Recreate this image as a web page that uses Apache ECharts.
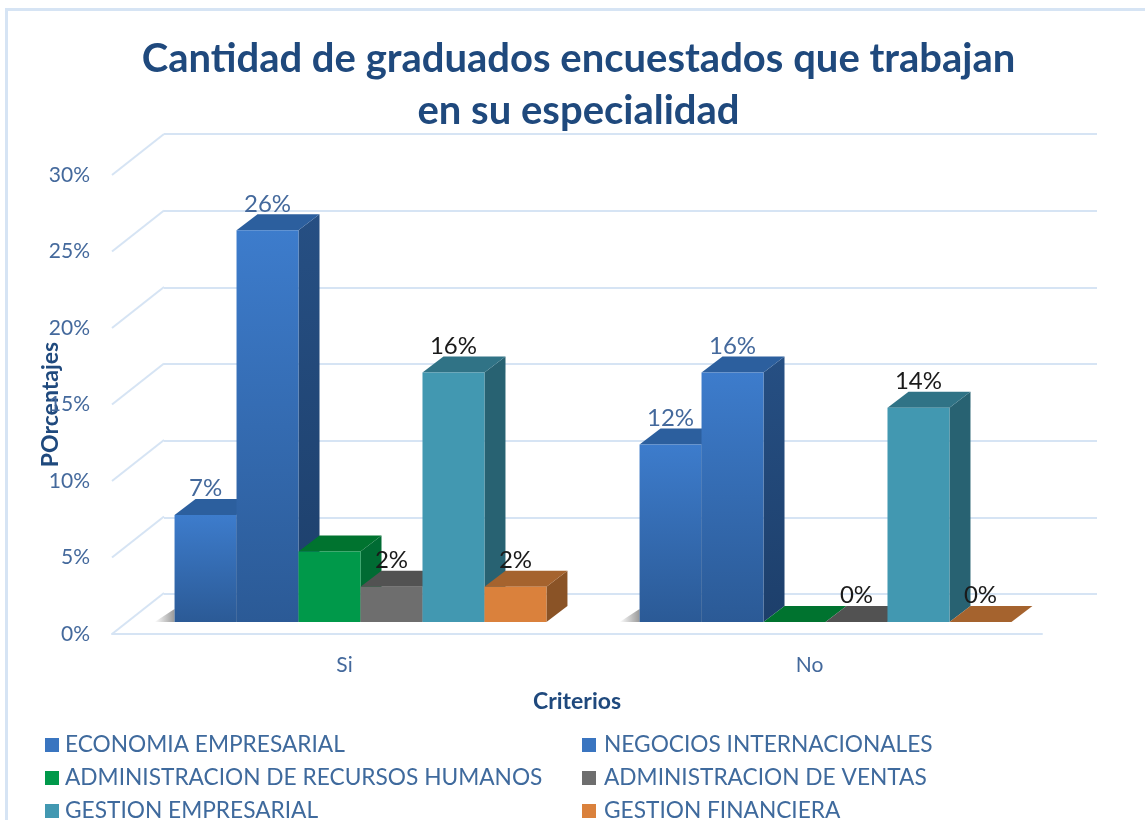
<!DOCTYPE html>
<html><head><meta charset="utf-8">
<style>html,body{margin:0;padding:0;background:#fff}#c{width:1145px;height:820px}</style>
<script src="https://cdn.jsdelivr.net/npm/echarts@6/dist/echarts.min.js"></script>
</head><body><div id="c"></div>
<script>
const titleText = 'Cantidad de graduados encuestados que trabajan\nen su especialidad';
const categories = ['Si', 'No'];
const valueTicks = [0, 5, 10, 15, 20, 25, 30];
const economia = [7.0, 11.6];
const negocios = [25.6, 16.3];
const recursos = [4.6, 0];
const ventas = [2.3, 0];
const gestionEmp = [16.3, 14.0];
const gestionFin = [2.3, 0];
const seriesNames = ['ECONOMIA EMPRESARIAL','NEGOCIOS INTERNACIONALES','ADMINISTRACION DE RECURSOS HUMANOS','ADMINISTRACION DE VENTAS','GESTION EMPRESARIAL','GESTION FINANCIERA'];
const seriesValues = [economia, negocios, recursos, ventas, gestionEmp, gestionFin];

const FONT = 'Lato';
const BLUE = '#44699c', NAVY = '#1f497d', LINE = '#d6e4f4';
const grad = (a, b) => ({type:'linear',x:0,y:0,x2:0,y2:1,colorStops:[{offset:0,color:a},{offset:1,color:b}]});
const looks = [
  {front:grad('#3d7ccc','#2b5a96'),top:'#2c5f9e',side:grad('#264f83','#1d3f6b'),key:'#3a75c0',label:BLUE,shadow:true},
  {front:grad('#3d7ccc','#2b5a96'),top:'#2c5f9e',side:grad('#264f83','#1d3f6b'),key:'#3a75c0',label:BLUE},
  {front:'#00994a',top:'#00732f',side:'#006b33',key:'#00994a',label:null},
  {front:'#6e6e6e',top:'#525252',side:'#4a4a4a',key:'#6e6e6e',label:'#1a1a1a'},
  {front:'#4298b1',top:'#307386',side:'#286272',key:'#4298b1',label:'#1a1a1a'},
  {front:'#da813c',top:'#a5632e',side:'#8a5326',key:'#da813c',label:'#1a1a1a'}
];

function barSeries(idx){
  const look = looks[idx];
  return {
    name: seriesNames[idx], type:'custom', xAxisIndex:0, yAxisIndex:0, clip:false,
    itemStyle:{color:look.key}, encode:{x:0,y:1},
    data: categories.map((c,i)=>[i, seriesValues[idx][i]]),
    renderItem(params, api){
      const top = api.coord([api.value(0), api.value(1)]);
      const base = api.coord([api.value(0), 0]);
      const band = api.size([1,0])[0];
      const w = band*0.1333, dx=21, dy=-16;
      const x0 = top[0] + 16 + (idx-3)*w, x1 = x0+w;
      const yb = base[1]-12, yt = top[1]-12;
      const children = [];
      if(look.shadow){
        children.push({type:'polygon',shape:{points:[[x0-20,yb],[x0,yb],[x0,yb-13]]},
          style:{fill:{type:'linear',x:0,y:0,x2:1,y2:0,colorStops:[{offset:0,color:'rgba(70,70,70,0)'},{offset:1,color:'rgba(70,70,70,0.55)'}]}}});
      }
      children.push({type:'polygon',shape:{points:[[x1,yb],[x1+dx,yb+dy],[x1+dx,yt+dy],[x1,yt]]},style:{fill:look.side}});
      children.push({type:'polygon',shape:{points:[[x0,yt],[x0+dx,yt+dy],[x1+dx,yt+dy],[x1,yt]]},style:{fill:look.top}});
      children.push({type:'rect',shape:{x:x0,y:yt,width:w,height:yb-yt},style:{fill:look.front}});
      if(look.label){
        children.push({type:'text',z2:20,style:{text:Math.round(api.value(1))+'%',x:(x0+x1)/2,y:yt-26.5,
          align:'center',verticalAlign:'middle',fill:look.label,font:'24px '+FONT}});
      }
      return {type:'group',children};
    }
  };
}

const wallSeries = {
  type:'custom', xAxisIndex:0, yAxisIndex:0, clip:false, silent:true, z:0,
  data: valueTicks.map(v=>[0,v]), encode:{x:0,y:1},
  renderItem(params, api){
    const y = api.coord([0, api.value(1)])[1];
    const x = params.coordSys.x;
    return {type:'line',shape:{x1:x,y1:y,x2:x+52,y2:y-41},style:{stroke:LINE,lineWidth:2,fill:null}};
  }
};

function legendRow(name, left, rowTop, pad){
  return {orient:'horizontal',left,top:rowTop,padding:0,itemWidth:14,itemHeight:14,icon:'rect',selectedMode:false,
    data:[name],textStyle:{color:'#3f6a9d',fontFamily:FONT,fontSize:22.7,lineHeight:26,padding:[0,0,0,pad]}};
}

const chart = echarts.init(document.getElementById('c'),null,{renderer:'canvas'});
chart.setOption({
  animation:false, backgroundColor:'#fff',
  title:{text:titleText,left:573.5,textAlign:'center',top:28,itemGap:0,
    textStyle:{color:NAVY,fontFamily:FONT,fontSize:40,fontWeight:'bold',lineHeight:52}},
  graphic:[{type:'rect',shape:{x:6.5,y:9.5,width:1170,height:900},style:{fill:null,stroke:LINE,lineWidth:3},silent:true,z:-1}],
  grid:[{left:112,width:930,top:175,height:459},{left:164,width:933,top:134,height:460}],
  xAxis:[
    {type:'category',gridIndex:0,data:categories,
      axisLine:{show:true,lineStyle:{color:LINE,width:2}},axisTick:{show:false},
      axisLabel:{color:BLUE,fontFamily:FONT,fontSize:21,margin:21},
      name:'Criterios',nameLocation:'middle',nameGap:56,nameMoveOverlap:false,
      nameTextStyle:{color:NAVY,fontFamily:FONT,fontSize:23,fontWeight:'bold'}},
    {type:'category',gridIndex:1,data:categories,show:false}
  ],
  yAxis:[
    {type:'value',gridIndex:0,min:0,max:30,interval:5,
      axisLine:{show:false},axisTick:{show:false},splitLine:{show:false},
      axisLabel:{color:BLUE,fontFamily:FONT,fontSize:21,margin:22,formatter:'{value}%'},
      name:'POrcentajes',nameLocation:'middle',nameGap:50,nameRotate:90,nameMoveOverlap:false,
      nameTextStyle:{color:NAVY,fontFamily:FONT,fontSize:23,fontWeight:'bold'}},
    {type:'value',gridIndex:1,min:0,max:30,interval:5,
      axisLine:{show:false},axisTick:{show:false},axisLabel:{show:false},
      splitLine:{show:true,lineStyle:{color:LINE,width:2}}}
  ],
  legend:[
    legendRow(seriesNames[0],45,732,1), legendRow(seriesNames[1],582,732,3),
    legendRow(seriesNames[2],45,765,1), legendRow(seriesNames[3],582,765,3),
    legendRow(seriesNames[4],45,798,1), legendRow(seriesNames[5],582,798,3)
  ],
  series:[wallSeries].concat(seriesNames.map((n,i)=>barSeries(i)))
});
</script></body></html>
